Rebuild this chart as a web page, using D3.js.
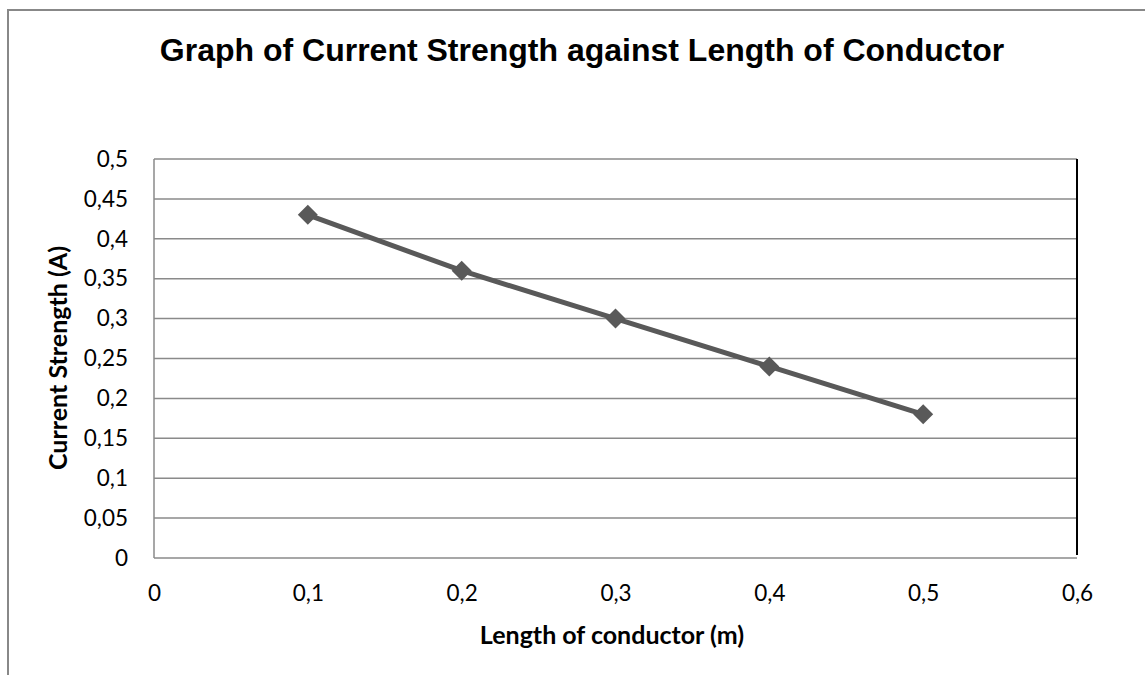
<!DOCTYPE html>
<html>
<head>
<meta charset="utf-8">
<script src="https://cdn.jsdelivr.net/npm/d3@7"></script>
<style>
  body { margin: 0; background: #fff; }
  svg { display: block; }
</style>
</head>
<body>
<div id="chart"></div>
<script>
// data
var lengths = [0.1, 0.2, 0.3, 0.4, 0.5];
var currents = [0.43, 0.36, 0.30, 0.24, 0.18];
var xTicks = [0, 0.1, 0.2, 0.3, 0.4, 0.5, 0.6];
var yTicks = [0, 0.05, 0.1, 0.15, 0.2, 0.25, 0.3, 0.35, 0.4, 0.45, 0.5];

var W = 1146, H = 675;
var margin = { top: 159, right: 69, bottom: 117, left: 154 };
var width = W - margin.left - margin.right,
  height = H - margin.top - margin.bottom;

var fmt = function(d) { return String(+d.toFixed(2)).replace(".", ","); };

var svg = d3.select("#chart").append("svg")
  .attr("width", W)
  .attr("height", H);

// outer chart border (only top and left visible in the shot)
svg.append("path")
  .attr("d", "M8,676 L8,10 L1145,10")
  .attr("fill", "none")
  .attr("stroke", "#888")
  .attr("stroke-width", 2);

svg.append("text")
  .attr("x", 582)
  .attr("y", 61)
  .attr("text-anchor", "middle")
  .style("font-family", "'Liberation Sans', Arial, sans-serif")
  .style("font-weight", "bold")
  .style("font-size", "32px")
  .text("Graph of Current Strength against Length of Conductor");

var x = d3.scaleLinear().domain([0, 0.6]).range([0, width]);
var y = d3.scaleLinear().domain([0, 0.5]).range([height, 0]);

var g = svg.append("g")
  .attr("transform", "translate(" + margin.left + "," + margin.top + ")");

// horizontal gridlines
g.selectAll(".grid")
  .data(yTicks)
  .enter().append("line")
  .attr("class", "grid")
  .attr("x1", 0)
  .attr("x2", width)
  .attr("y1", function(d) { return y(d); })
  .attr("y2", function(d) { return y(d); })
  .attr("stroke", "#8a8a8a")
  .attr("stroke-width", 1.5);

// left axis line
g.append("line")
  .attr("x1", 0).attr("x2", 0)
  .attr("y1", 0).attr("y2", height)
  .attr("stroke", "#8a8a8a")
  .attr("stroke-width", 1.5);

// black right edge
g.append("line")
  .attr("x1", width).attr("x2", width)
  .attr("y1", 0).attr("y2", height - 3)
  .attr("stroke", "#000")
  .attr("stroke-width", 2);

var yAxis = d3.axisLeft(y).tickValues(yTicks).tickFormat(fmt).tickSize(0).tickPadding(26);
var xAxis = d3.axisBottom(x).tickValues(xTicks).tickFormat(fmt).tickSize(0);

g.append("g").call(yAxis)
  .call(function(a) { a.select(".domain").remove(); })
  .selectAll("text")
  .style("font-family", "Lato, sans-serif")
  .style("font-size", "22.5px")
  .attr("fill", "#000");

g.append("g")
  .attr("transform", "translate(0," + height + ")")
  .call(xAxis)
  .call(function(a) { a.select(".domain").remove(); })
  .selectAll("text")
  .attr("y", 43)
  .attr("dy", 0)
  .style("font-family", "Lato, sans-serif")
  .style("font-size", "22.5px")
  .attr("fill", "#000");

var line = d3.line()
  .x(function(d, i) { return x(lengths[i]); })
  .y(function(d) { return y(d); });

g.append("path")
  .datum(currents)
  .attr("d", line)
  .attr("fill", "none")
  .attr("stroke", "#595959")
  .attr("stroke-width", 5);

g.selectAll(".pt")
  .data(currents)
  .enter().append("path")
  .attr("class", "pt")
  .attr("transform", function(d, i) { return "translate(" + x(lengths[i]) + "," + y(d) + ")"; })
  .attr("d", "M0,-10 L10,0 L0,10 L-10,0 Z")
  .attr("fill", "#595959");

svg.append("text")
  .attr("x", 612)
  .attr("y", 644)
  .attr("text-anchor", "middle")
  .style("font-family", "Lato, sans-serif")
  .style("font-weight", "bold")
  .style("font-size", "25px")
  .text("Length of conductor (m)");

svg.append("text")
  .attr("transform", "translate(67,358) rotate(-90)")
  .attr("text-anchor", "middle")
  .style("font-family", "Lato, sans-serif")
  .style("font-weight", "bold")
  .style("font-size", "25px")
  .text("Current Strength (A)");
</script>
</body>
</html>
